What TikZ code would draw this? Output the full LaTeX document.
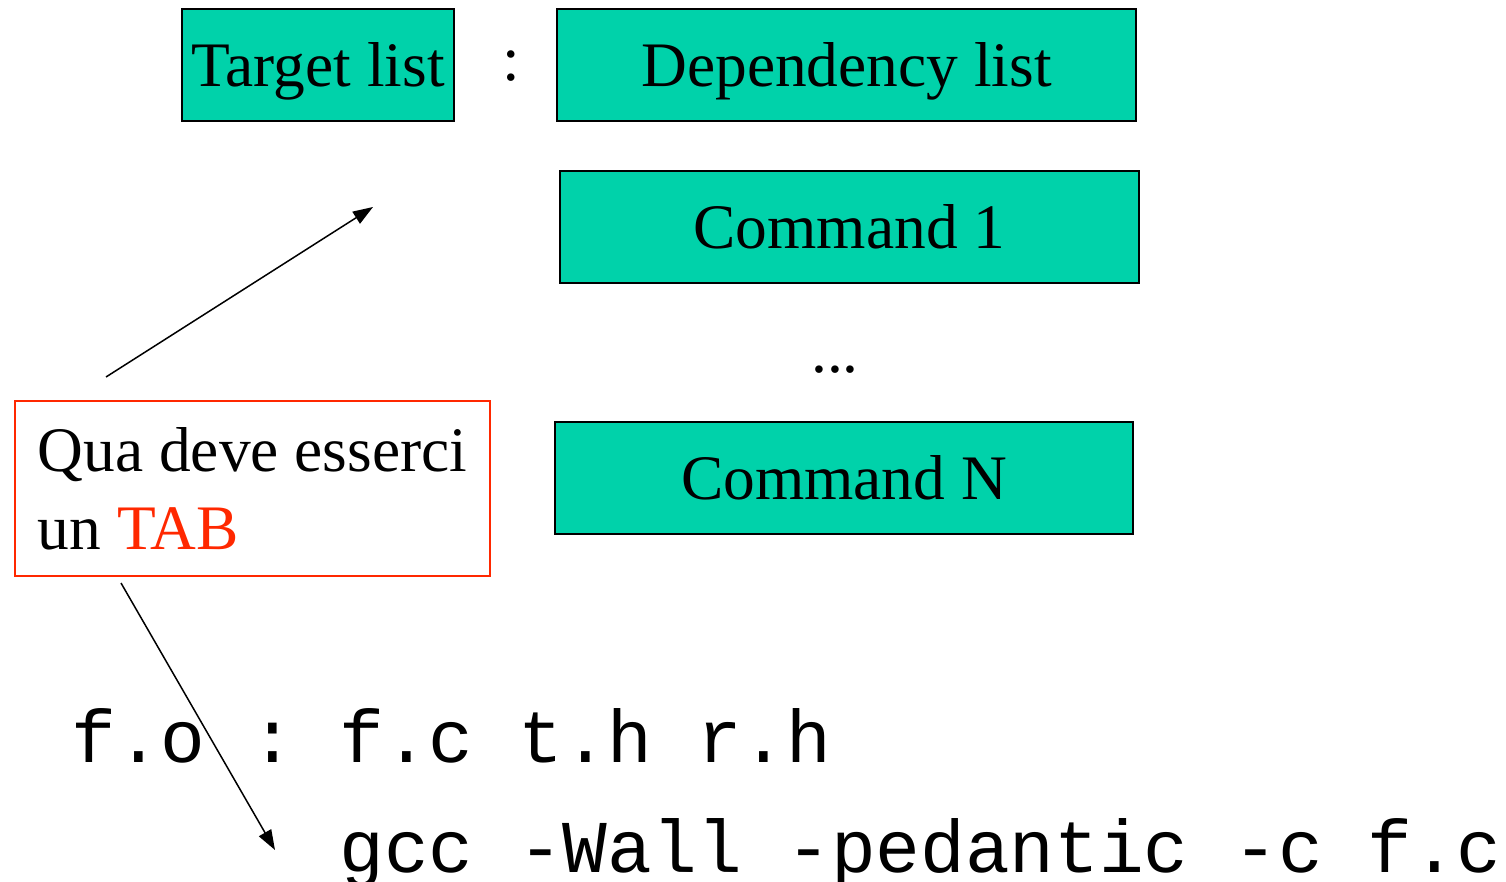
\documentclass[tikz,border=0pt]{standalone}
\usepackage{fontspec}
\setmainfont{Liberation Serif}
\setmonofont{Liberation Mono}
\usetikzlibrary{arrows.meta}
\definecolor{boxteal}{RGB}{0,210,170}
\definecolor{tabred}{RGB}{255,40,0}
\tikzset{
  rulebox/.style={draw, fill=boxteal, line width=1pt, minimum height=56pt,
    inner sep=0pt, text height=22pt, text depth=0pt,
    font=\fontsize{31.7}{38}\selectfont},
  tabnote/.style={draw=tabred, line width=0.9pt, minimum height=87.5pt,
    minimum width=237.5pt, inner sep=0pt, align=left,
    font=\fontsize{31.7}{39}\selectfont},
  codeline/.style={anchor=base west, inner sep=0pt,
    font=\ttfamily\fontsize{37.25}{40}\selectfont},
  hint/.style={-{Triangle[length=10pt,width=7pt]}, line width=0.75pt},
}
\begin{document}
\begin{tikzpicture}[x=0.5pt, y=-0.5pt]
\useasboundingbox (0,0) rectangle (1506,882);
\node[rulebox, minimum width=136pt]   (target) at (318,65)    {Target list};
\node[font=\fontsize{31.7}{38}\selectfont] (colon) at (511,66) {:};
\node[rulebox, minimum width=289.5pt] (deps)   at (846.5,65)  {Dependency list};
\node[rulebox, minimum width=289.5pt] (cmdone) at (849.5,227) {Command 1};
\node[font=\fontsize{31.7}{38}\selectfont] (dots) at (835,370) {...};
\node[rulebox, minimum width=289pt]   (cmdn)   at (844,478)   {Command N};

\node[tabnote] (note) at (252.5,488.5) {Qua deve esserci\\un \textcolor{tabred}{TAB}};

% example rule
\node[codeline] (rule) at (71,762)  {f.o : f.c t.h r.h};
\node[codeline] (cmd)  at (339,872) {gcc -Wall -pedantic -c f.c};

\coordinate (up0) at (106,377);
\coordinate (up1) at (373,207);
\coordinate (dn0) at (121,583);
\coordinate (dn1) at (275,850);
\draw[hint] (up0) -- (up1);
\draw[hint] (dn0) -- (dn1);
\end{tikzpicture}
\end{document}
